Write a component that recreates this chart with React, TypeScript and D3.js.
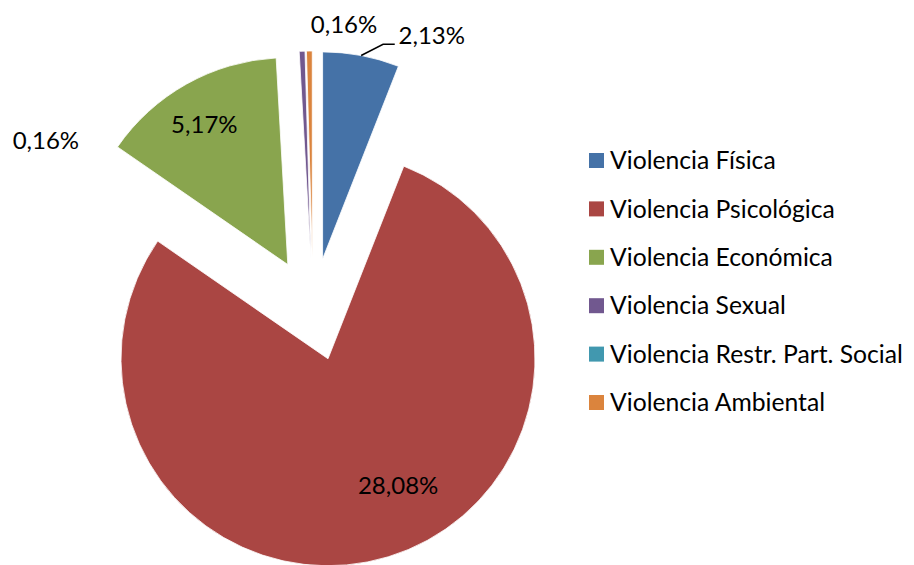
import React from "react";
import * as d3 from "d3";

const categories = [
  "Violencia Física",
  "Violencia Psicológica",
  "Violencia Económica",
  "Violencia Sexual",
  "Violencia Restr. Part. Social",
  "Violencia Ambiental",
];
const values = [2.13, 28.08, 5.17, 0.16, 0, 0.16];
const labels = ["2,13%", "28,08%", "5,17%", "0,16%", "", "0,16%"];
const colors = ["#4572A7", "#AA4643", "#89A54E", "#71588F", "#4198AF", "#DB843D"];

const W = 914;
const H = 565;
const CX = 313;
const CY = 309.5;
const R = 207;
const EXPLODE = 51.5;
const FONT = "Lato, 'Open Sans', sans-serif";

// label layout: polar placement (degrees clockwise from north, px from slice apex or pie center)
const labelLayout: Record<number, { mode: "slice" | "center"; angle: number; radius: number }> = {
  0: { mode: "center", angle: 23.4, radius: 299 },
  1: { mode: "slice", angle: 151, radius: 144.6 },
  2: { mode: "slice", angle: 329.3, radius: 163.5 },
  3: { mode: "center", angle: 302.3, radius: 316 },
  5: { mode: "center", angle: 6.2, radius: 287 },
};

const rad = (deg: number) => (deg * Math.PI) / 180;
const polar = (x: number, y: number, a: number, r: number): [number, number] => [
  x + r * Math.sin(a),
  y - r * Math.cos(a),
];

export default function App() {
  const pie = d3
    .pie<number>()
    .sort(null)
    .value((d) => d)
    .startAngle(0)
    .endAngle(2 * Math.PI);
  const arcs = pie(values);
  const arc = d3.arc<d3.PieArcDatum<number>>().innerRadius(0).outerRadius(R);

  const legendY = d3
    .scalePoint<number>()
    .domain(d3.range(categories.length))
    .range([160.5, 402.5]);

  return (
    <svg
      width={W}
      height={H}
      style={{ position: "fixed", left: 0, top: 0, background: "#fff" }}
      fontFamily={FONT}
    >
      {arcs.map((a, i) => {
        const mid = (a.startAngle + a.endAngle) / 2;
        const [ox, oy] = polar(CX, CY, mid, EXPLODE);
        if (a.endAngle - a.startAngle <= 0) return null;
        return (
          <path
            key={i}
            d={arc(a) || ""}
            transform={`translate(${ox},${oy})`}
            fill={colors[i]}
            stroke="#fff"
            strokeWidth={0.8}
          />
        );
      })}
      {arcs.map((a, i) => {
        const lay = labelLayout[i];
        if (!lay || !labels[i]) return null;
        const mid = (a.startAngle + a.endAngle) / 2;
        const [ox, oy] = polar(CX, CY, mid, EXPLODE);
        const [tx, ty] =
          lay.mode === "slice"
            ? polar(ox, oy, rad(lay.angle), lay.radius)
            : polar(CX, CY, rad(lay.angle), lay.radius);
        let leader = null;
        if (i === 0) {
          const p0 = polar(ox, oy, mid, R);
          const p1 = polar(ox, oy, mid + rad(5), R + 16);
          const p2: [number, number] = [tx - 37, p1[1]];
          leader = (
            <polyline
              points={[p0, p1, p2].map((p) => p.join(",")).join(" ")}
              fill="none"
              stroke="#000"
              strokeWidth={1.5}
            />
          );
        }
        return (
          <g key={"l" + i}>
            {leader}
            <text
              x={tx}
              y={ty + 8.5}
              textAnchor="middle"
              fontSize={24}
              fill="#000"
            >
              {labels[i]}
            </text>
          </g>
        );
      })}
      {categories.map((c, i) => (
        <g key={"lg" + i} transform={`translate(589,${legendY(i)})`}>
          <rect x={0} y={-7.5} width={15} height={15} fill={colors[i]} />
          <text x={21} y={8.7} fontSize={24.7} fill="#000">
            {c}
          </text>
        </g>
      ))}
    </svg>
  );
}
